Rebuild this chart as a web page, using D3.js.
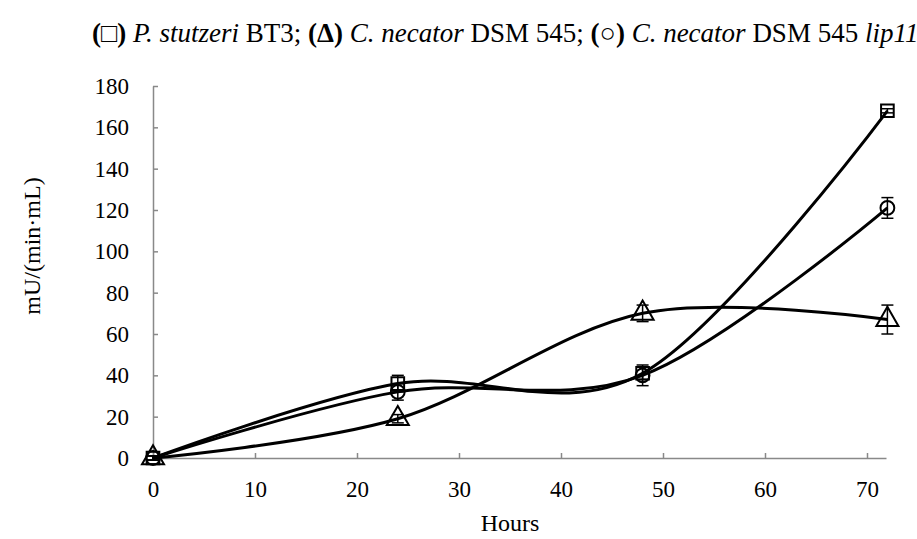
<!DOCTYPE html>
<html>
<head>
<meta charset="utf-8">
<script src="https://cdn.jsdelivr.net/npm/d3@7"></script>
<style>
  body { margin: 0; background: #fff; }
  svg { font-family: "Liberation Serif", "Times New Roman", serif; }
</style>
</head>
<body>
<div id="chart"></div>
<script>
// sampling times (hours)
const hours = [0, 24, 48, 72];

// P. stutzeri BT3 (square)
const stutzeri = [0, 36, 41, 168];
const stutzeriErr = [1, 4, 3, 1];

// C. necator DSM 545 (triangle)
const necator = [0, 19, 70, 67];
const necatorErr = [1, 2, 4, 7];

// C. necator DSM 545 lip11 (circle)
const lip11 = [0, 32, 40, 121];
const lip11Err = [1, 4, 5, 5];

const xTicks = [0, 10, 20, 30, 40, 50, 60, 70];
const yTicks = [0, 20, 40, 60, 80, 100, 120, 140, 160, 180];

const series = [
  { name: "stutzeri", values: stutzeri, err: stutzeriErr, shape: "square" },
  { name: "necator", values: necator, err: necatorErr, shape: "triangle" },
  { name: "lip11", values: lip11, err: lip11Err, shape: "circle" }
];

var W = 917, H = 539;
var margin = { top: 86, right: 31, bottom: 81, left: 153 };
var width = W - margin.left - margin.right;
var height = H - margin.top - margin.bottom;

var svg = d3.select("#chart").append("svg")
    .attr("width", W)
    .attr("height", H);

// title line
var title = svg.append("text")
    .attr("x", 92)
    .attr("y", 42)
    .style("font-size", "27px")
    .attr("fill", "#000");
title.append("tspan").attr("font-weight", "bold").text("(");
title.append("tspan").text("\u25A1");
title.append("tspan").attr("font-weight", "bold").text(")");
title.append("tspan").attr("font-style", "italic").text(" P. stutzeri");
title.append("tspan").text(" BT3; ");
title.append("tspan").attr("font-weight", "bold").text("(\u0394)");
title.append("tspan").attr("font-style", "italic").text(" C. necator");
title.append("tspan").text(" DSM 545; ");
title.append("tspan").attr("font-weight", "bold").text("(");
title.append("tspan").text("\u25CB");
title.append("tspan").attr("font-weight", "bold").text(")");
title.append("tspan").attr("font-style", "italic").text(" C. necator");
title.append("tspan").text(" DSM 545 ");
title.append("tspan").attr("font-style", "italic").text("lip11");

var g = svg.append("g")
    .attr("transform", "translate(" + margin.left + "," + margin.top + ")");

// 70 h sits at 714 px, the axis line runs a bit further
const x = d3.scaleLinear()
    .domain([0, 70 * width / 714])
    .range([0, width]);

const y = d3.scaleLinear()
    .domain([0, 180])
    .range([height, 0]);

// axes
var xAxis = g.append("g")
    .attr("transform", `translate(0,${height})`)
    .call(d3.axisBottom(x).tickValues(xTicks).tickSizeInner(-5).tickSizeOuter(0).tickPadding(23));

var yAxis = g.append("g")
    .call(d3.axisLeft(y).tickValues(yTicks).tickSizeInner(-5).tickSizeOuter(0).tickPadding(24));

[xAxis, yAxis].forEach(function(a) {
  a.select(".domain").attr("stroke", "#898989").attr("stroke-width", 1.5);
  a.selectAll(".tick line").attr("stroke", "#898989").attr("stroke-width", 1.5);
  a.selectAll(".tick text")
    .style("font-family", "'Liberation Serif', serif")
    .style("font-size", "23px")
    .attr("fill", "#000");
});

// axis titles
svg.append("text")
    .attr("x", 510)
    .attr("y", 531)
    .attr("text-anchor", "middle")
    .style("font-size", "24px")
    .text("Hours");

svg.append("text")
    .attr("transform", "translate(40,246) rotate(-90)")
    .attr("text-anchor", "middle")
    .style("font-size", "24px")
    .text("mU/(min\u00B7mL)");

const line = d3.line()
    .curve(d3.curveCardinal.tension(0))
    .x((d, i) => x(hours[i]))
    .y(d => y(d));

series.forEach(function(s) {
  g.append("path")
    .datum(s.values)
    .attr("fill", "none")
    .attr("stroke", "#000")
    .attr("stroke-width", 3)
    .attr("d", line);
});

// error bars
series.forEach(function(s) {
  var eb = g.append("g").attr("stroke", "#000").attr("stroke-width", 1.5);
  s.values.forEach(function(v, i) {
    var cx = x(hours[i]);
    var top = y(v + s.err[i]), bot = y(v - s.err[i]);
    eb.append("line").attr("x1", cx).attr("x2", cx).attr("y1", top).attr("y2", bot);
    eb.append("line").attr("x1", cx - 6).attr("x2", cx + 6).attr("y1", top).attr("y2", top);
    eb.append("line").attr("x1", cx - 6).attr("x2", cx + 6).attr("y1", bot).attr("y2", bot);
  });
});

// markers
const symbolType = { square: d3.symbolSquare, triangle: d3.symbolTriangle, circle: d3.symbolCircle };
const symbolSize = { square: 160, triangle: 210, circle: 150 };

series.forEach(function(s) {
  g.append("g").selectAll("path")
    .data(s.values)
    .enter()
    .append("path")
    .attr("transform", (d, i) => `translate(${x(hours[i])},${y(d)})`)
    .attr("d", d3.symbol().type(symbolType[s.shape]).size(symbolSize[s.shape]))
    .attr("fill", "none")
    .attr("stroke", "#000")
    .attr("stroke-width", 2);
});
</script>
</body>
</html>
